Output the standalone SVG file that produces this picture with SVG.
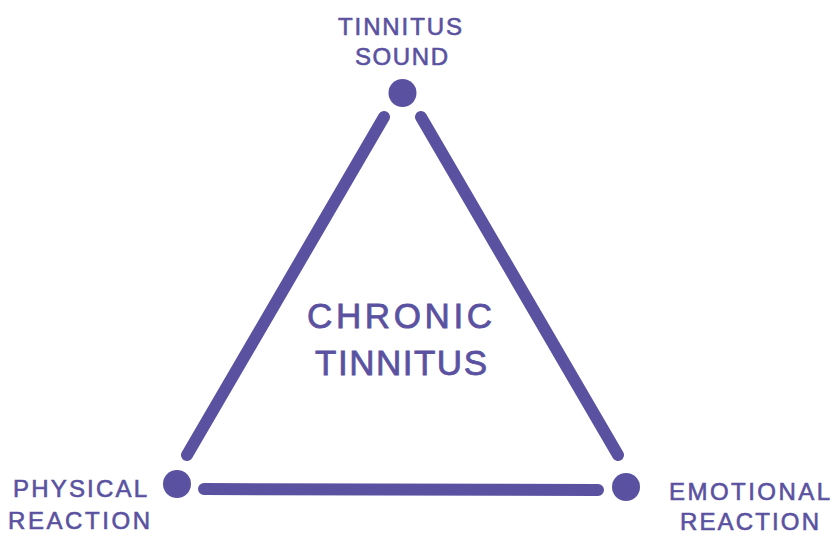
<svg xmlns="http://www.w3.org/2000/svg" width="835" height="534" viewBox="0 0 835 534">
<style>
.lbl{font-family:"Liberation Sans",Arial,sans-serif;fill:#5a52a0;stroke:#5a52a0;stroke-width:0.6;text-anchor:middle}
.s{font-size:24px}
.b{font-size:35px;stroke-width:0.8}
.edge{stroke:#5a52a0;stroke-width:12;stroke-linecap:round;fill:none}
.dot{fill:#5a52a0}
</style>
<rect width="835" height="534" fill="#ffffff"/>
<g id="connectors">
<line class="edge" x1="384" y1="117" x2="187" y2="455"/>
<line class="edge" x1="421" y1="117" x2="618" y2="455"/>
<line class="edge" x1="204" y1="489" x2="598" y2="490"/>
</g>
<g id="tinnitus-sound">
<circle class="dot" cx="402.5" cy="93" r="14"/>
<text class="lbl s" x="400" y="35" textLength="124" lengthAdjust="spacing">TINNITUS</text>
<text class="lbl s" x="401.5" y="65" textLength="93" lengthAdjust="spacing">SOUND</text>
</g>
<g id="physical-reaction">
<circle class="dot" cx="177" cy="484" r="14"/>
<text class="lbl s" x="80" y="497" textLength="134" lengthAdjust="spacing">PHYSICAL</text>
<text class="lbl s" x="79" y="529" textLength="142" lengthAdjust="spacing">REACTION</text>
</g>
<g id="emotional-reaction">
<circle class="dot" cx="626" cy="487" r="14"/>
<text class="lbl s" x="749.5" y="500" textLength="161" lengthAdjust="spacing">EMOTIONAL</text>
<text class="lbl s" x="749.5" y="530" textLength="139" lengthAdjust="spacing">REACTION</text>
</g>
<g id="chronic-tinnitus">
<text class="lbl b" x="399.5" y="328" textLength="185" lengthAdjust="spacing">CHRONIC</text>
<text class="lbl b" x="401" y="375" textLength="172" lengthAdjust="spacing">TINNITUS</text>
</g>
</svg>
